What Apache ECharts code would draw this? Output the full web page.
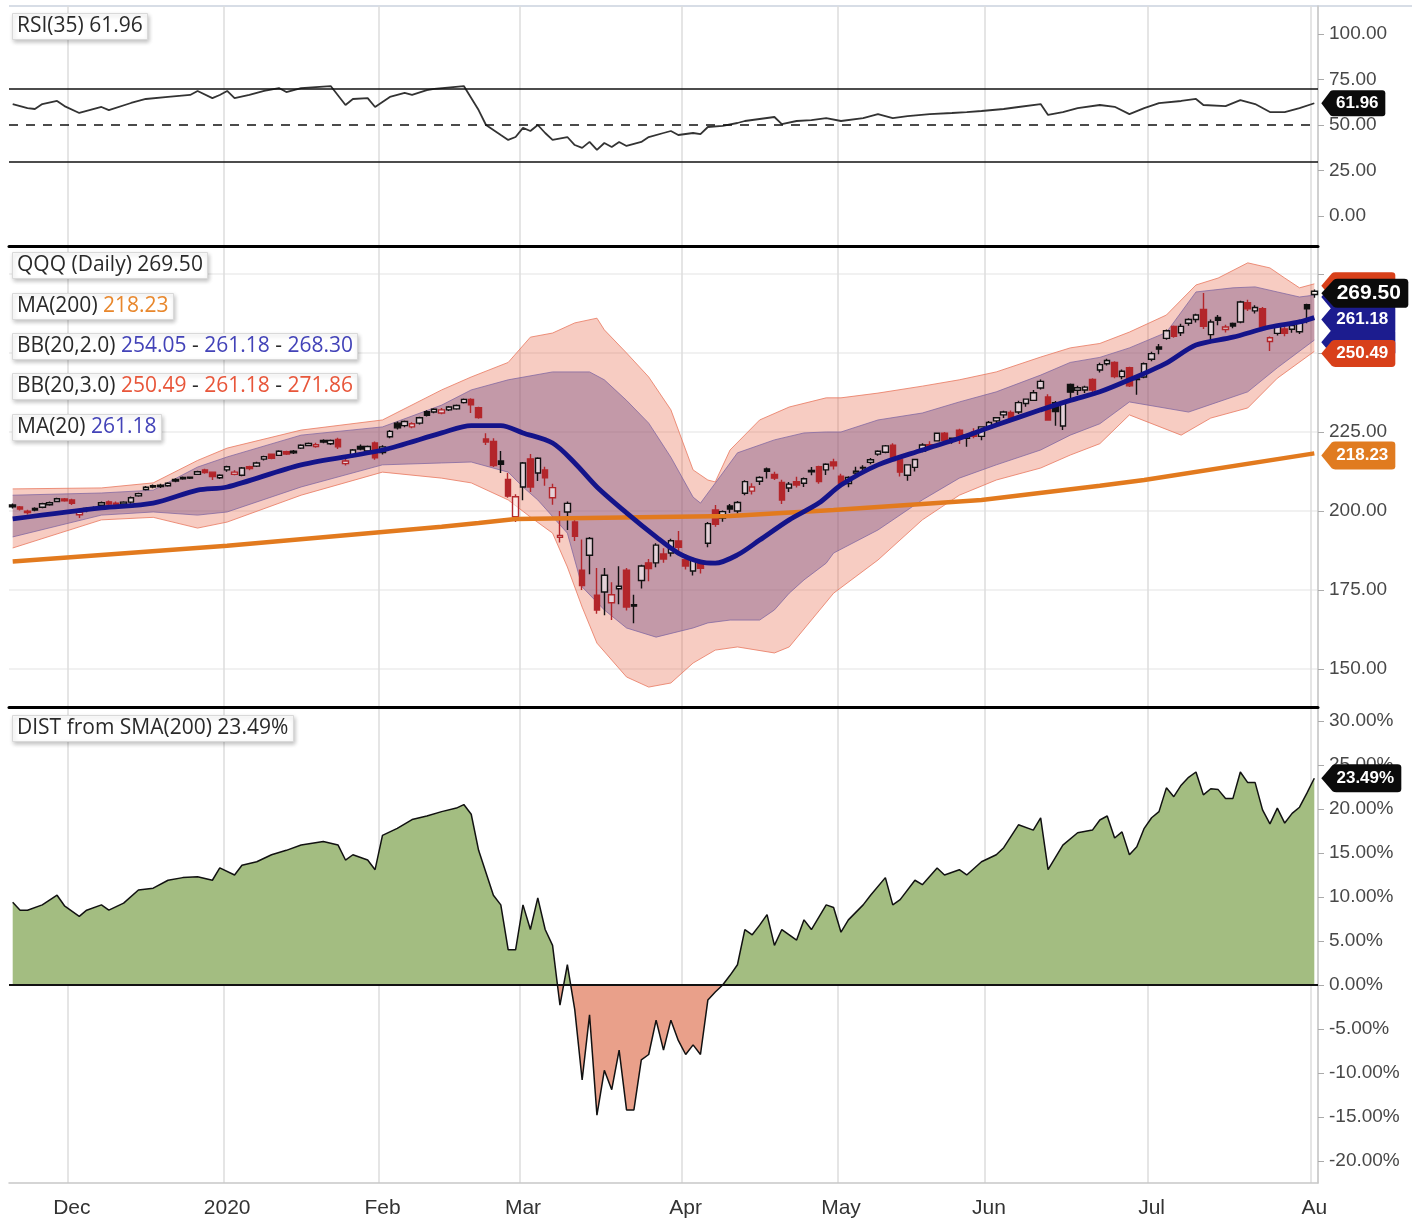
<!DOCTYPE html>
<html>
<head>
<meta charset="utf-8">
<script src="https://cdn.jsdelivr.net/npm/echarts@6/dist/echarts.min.js"></script>
<style>
  html, body { margin: 0; padding: 0; background: #fff; }
  #chart { width: 1412px; height: 1222px; }
</style>
</head>
<body>
<div id="chart"></div>
<script>
// trading days shown on the chart
var dates = [
  "2019-11-19","2019-11-20","2019-11-21","2019-11-22","2019-11-25","2019-11-26","2019-11-27","2019-11-29",
  "2019-12-02","2019-12-03","2019-12-04","2019-12-05","2019-12-06","2019-12-09","2019-12-10","2019-12-11","2019-12-12","2019-12-13","2019-12-16","2019-12-17","2019-12-18","2019-12-19","2019-12-20","2019-12-23","2019-12-24","2019-12-26","2019-12-27","2019-12-30","2019-12-31",
  "2020-01-02","2020-01-03","2020-01-06","2020-01-07","2020-01-08","2020-01-09","2020-01-10","2020-01-13","2020-01-14","2020-01-15","2020-01-16","2020-01-17","2020-01-21","2020-01-22","2020-01-23","2020-01-24","2020-01-27","2020-01-28","2020-01-29","2020-01-30","2020-01-31",
  "2020-02-03","2020-02-04","2020-02-05","2020-02-06","2020-02-07","2020-02-10","2020-02-11","2020-02-12","2020-02-13","2020-02-14","2020-02-18","2020-02-19","2020-02-20","2020-02-21","2020-02-24","2020-02-25","2020-02-26","2020-02-27","2020-02-28",
  "2020-03-02","2020-03-03","2020-03-04","2020-03-05","2020-03-06","2020-03-09","2020-03-10","2020-03-11","2020-03-12","2020-03-13","2020-03-16","2020-03-17","2020-03-18","2020-03-19","2020-03-20","2020-03-23","2020-03-24","2020-03-25","2020-03-26","2020-03-27","2020-03-30","2020-03-31",
  "2020-04-01","2020-04-02","2020-04-03","2020-04-06","2020-04-07","2020-04-08","2020-04-09","2020-04-13","2020-04-14","2020-04-15","2020-04-16","2020-04-17","2020-04-20","2020-04-21","2020-04-22","2020-04-23","2020-04-24","2020-04-27","2020-04-28","2020-04-29","2020-04-30",
  "2020-05-01","2020-05-04","2020-05-05","2020-05-06","2020-05-07","2020-05-08","2020-05-11","2020-05-12","2020-05-13","2020-05-14","2020-05-15","2020-05-18","2020-05-19","2020-05-20","2020-05-21","2020-05-22","2020-05-26","2020-05-27","2020-05-28","2020-05-29",
  "2020-06-01","2020-06-02","2020-06-03","2020-06-04","2020-06-05","2020-06-08","2020-06-09","2020-06-10","2020-06-11","2020-06-12","2020-06-15","2020-06-16","2020-06-17","2020-06-18","2020-06-19","2020-06-22","2020-06-23","2020-06-24","2020-06-25","2020-06-26","2020-06-29","2020-06-30",
  "2020-07-01","2020-07-02","2020-07-06","2020-07-07","2020-07-08","2020-07-09","2020-07-10","2020-07-13","2020-07-14","2020-07-15","2020-07-16","2020-07-17","2020-07-20","2020-07-21","2020-07-22","2020-07-23","2020-07-24","2020-07-27","2020-07-28","2020-07-29","2020-07-30","2020-07-31",
  "2020-08-03"
];

// month tick labels
var monthLabels = {
  "2019-12": "Dec", "2020-01": "2020", "2020-02": "Feb", "2020-03": "Mar", "2020-04": "Apr",
  "2020-05": "May", "2020-06": "Jun", "2020-07": "Jul", "2020-08": "Au"
};

var opens = [
  201.9,201.3,199.5,200.8,201.2,202.0,203.0,203.8,203.5,198.8,
  200.8,201.0,201.8,202.9,202.5,202.2,202.8,204.8,206.8,208.0,
  208.2,208.0,210.0,210.6,210.7,211.6,213.0,212.3,210.5,213.0,
  211.6,211.3,214.0,214.2,216.4,218.0,217.6,218.8,218.9,219.9,
  220.7,220.4,222.3,221.3,222.6,215.0,217.5,220.4,219.0,221.5,
  218.5,223.5,227.8,227.0,226.6,227.8,231.4,231.3,231.0,232.0,
  232.3,234.3,235.3,232.7,222.8,222.0,215.8,210.0,198.2,207.6,
  216.5,212.0,213.0,204.2,191.7,199.7,196.5,181.3,186.0,173.4,
  174.4,171.0,175.4,181.3,170.4,178.0,183.6,183.6,186.4,186.7,
  190.5,184.6,181.0,183.6,189.8,200.3,197.8,201.6,200.0,205.6,
  206.3,209.4,213.3,211.6,209.0,207.3,209.3,208.8,212.8,214.0,
  213.0,215.5,211.0,208.7,212.0,213.8,215.4,218.0,218.6,220.8,
  216.4,211.3,213.8,219.0,221.0,222.2,224.6,222.4,225.6,223.0,
  225.0,223.6,226.4,228.5,230.4,231.2,231.3,234.0,235.0,238.9,
  236.1,234.3,226.9,240.0,238.2,238.3,241.6,244.6,246.6,247.0,
  242.5,245.3,241.8,242.4,248.0,251.9,254.6,258.4,256.4,259.4,
  260.6,263.8,255.8,261.2,257.4,259.3,259.8,265.9,263.3,264.0,
  253.6,256.2,257.6,257.5,256.7,265.3,268.5
];
var closes = [
  201.3,200.6,199.9,200.3,202.3,202.6,203.9,203.2,202.4,199.6,
  200.2,200.6,202.6,202.2,202.0,202.8,204.2,205.5,207.5,207.6,
  207.7,208.8,209.5,210.2,210.4,212.4,212.2,210.9,211.3,214.0,
  212.3,213.6,213.4,215.2,217.2,216.7,218.9,218.0,218.4,220.8,
  221.4,221.0,221.8,222.3,220.3,215.8,219.3,219.6,220.4,216.8,
  220.3,225.2,226.3,228.3,227.6,229.5,230.3,232.2,232.0,232.9,
  233.4,235.3,233.6,229.6,221.8,214.4,214.8,204.7,204.5,215.2,
  207.6,216.7,210.5,207.4,192.3,202.4,192.0,176.4,191.3,168.7,
  179.7,173.5,176.2,169.6,169.9,182.6,181.8,189.2,184.8,190.6,
  188.5,182.6,184.4,181.9,196.0,195.8,199.8,200.6,202.7,209.3,
  207.6,210.6,212.6,210.4,203.5,208.5,208.2,210.2,212.4,209.3,
  214.8,214.3,208.5,210.6,212.6,213.6,216.2,218.9,220.6,216.0,
  212.3,214.6,216.3,220.9,220.3,224.6,222.3,223.0,222.9,224.0,
  223.6,226.6,228.0,229.5,231.3,229.3,234.3,235.4,237.4,241.0,
  228.8,231.5,234.0,237.6,239.0,239.2,238.3,246.3,247.6,242.5,
  244.2,239.6,241.6,246.6,249.8,251.2,257.0,255.3,258.4,260.6,
  262.0,258.4,259.8,260.3,258.2,258.5,266.1,264.0,264.4,258.2,
  254.8,258.4,256.2,258.7,259.9,264.0,269.5
];
var lows = [
  200.8,200.2,198.9,199.9,200.9,201.7,202.8,202.9,201.9,197.8,
  199.6,200.1,201.5,201.9,201.4,201.8,202.3,204.5,206.5,207.2,
  207.3,207.7,209.1,209.9,210.1,211.4,211.8,209.8,210.1,212.4,
  211.3,211.0,212.9,213.9,216.0,216.4,217.4,217.7,218.0,219.6,
  220.5,220.0,221.4,220.9,219.6,214.4,217.0,219.2,218.6,216.2,
  217.9,223.0,225.8,226.5,226.2,227.4,229.9,230.9,230.6,231.6,
  232.0,234.0,231.0,229.2,220.9,213.9,212.0,204.2,196.5,203.4,
  206.0,209.5,208.0,202.0,190.0,194.0,190.5,175.0,180.0,167.5,
  167.0,165.5,170.5,168.5,164.5,175.5,177.8,182.2,183.6,185.6,
  187.0,181.5,179.6,180.2,188.5,195.0,196.6,199.4,199.2,205.0,
  205.2,208.2,210.3,209.8,202.2,206.0,207.4,207.6,211.3,208.6,
  211.4,213.1,207.4,207.5,211.2,212.8,214.8,217.5,218.3,215.8,
  210.9,209.6,212.5,218.6,219.8,222.0,221.9,221.3,221.2,220.3,
  223.0,222.4,225.9,227.3,229.4,228.3,230.7,233.0,234.8,238.4,
  228.6,227.0,225.6,235.1,236.7,237.3,236.9,243.8,246.0,242.0,
  241.7,239.2,236.8,242.0,247.4,249.6,254.2,254.8,255.4,258.6,
  259.6,257.6,253.6,258.8,256.5,257.8,259.4,263.3,262.5,257.4,
  250.6,255.5,255.3,256.4,256.0,259.4,267.5
];
var highs = [
  202.4,201.6,200.4,201.2,202.6,203.0,204.2,204.1,203.9,200.0,
  201.2,201.4,203.0,203.3,203.0,203.1,204.6,205.8,207.9,208.4,
  208.6,209.1,210.4,210.9,210.9,212.7,213.4,212.5,211.6,214.3,
  212.9,213.9,214.3,215.6,217.5,218.2,219.2,219.1,219.3,221.1,
  221.7,221.6,222.7,222.6,223.2,216.6,219.6,221.0,220.7,222.0,
  220.8,225.6,228.3,228.6,228.1,229.8,231.9,232.5,232.6,233.2,
  233.7,235.6,235.7,233.0,224.6,223.0,219.0,212.0,205.3,215.5,
  218.0,217.0,214.0,208.6,200.0,203.0,198.2,191.0,191.8,182.0,
  182.0,177.5,182.5,182.0,173.5,183.0,184.8,189.8,188.2,191.2,
  193.7,186.4,185.3,184.4,196.5,201.9,200.2,202.2,203.2,209.7,
  208.8,211.0,213.8,212.4,209.9,209.2,210.8,210.6,213.9,214.3,
  215.1,216.5,211.8,211.0,214.0,214.5,216.8,219.2,220.9,221.4,
  217.0,214.8,216.5,221.4,222.1,224.8,225.0,223.2,226.0,224.2,
  226.2,226.8,228.5,229.6,231.7,231.8,234.9,235.6,238.3,241.6,
  236.9,234.8,234.7,240.3,239.6,239.6,242.0,246.9,248.2,247.4,
  244.8,245.6,242.0,247.0,250.4,252.8,257.4,258.7,259.2,261.0,
  262.4,269.0,260.6,262.0,258.9,259.6,266.5,266.8,265.1,264.5,
  255.2,258.9,258.3,259.4,260.5,265.6,270.1
];

// overlays, read as [day index, value]
var ma200 = [[0,184.0],[29,189.0],[58,195.0],[63,196.2],[68,197.5],[97,198.4],[111,200.3],[131,203.5],[147,208.0],[153,209.8],[176,218.23]];
var ma20 = [[0,197.5],[12,201.0],[19,202.5],[25,206.6],[29,207.6],[39,214.6],[50,219.3],[58,224.7],[62,227.0],[66,227.0],[69,224.7],[73,221.5],[76,215.2],[79,207.6],[83,199.4],[87,191.8],[90,186.7],[93,183.9],[95,183.5],[98,186.1],[101,190.8],[105,197.2],[109,202.5],[112,208.2],[117,214.6],[123,219.3],[128,223.0],[133,227.2],[139,232.0],[143,235.0],[147,237.7],[151,241.5],[156,246.8],[160,252.5],[165,255.0],[170,258.2],[174,259.8],[176,261.18]];
var bb2Upper = [[0,205.0],[12,205.7],[19,206.6],[25,213.9],[29,217.1],[39,224.0],[50,226.6],[58,233.5],[62,238.3],[67,241.5],[73,244.0],[78,244.0],[80,241.5],[83,235.0],[86,227.8],[89,217.0],[92,204.4],[93,202.5],[96,212.0],[98,218.4],[103,222.5],[107,224.7],[110,225.0],[112,225.0],[117,228.8],[123,231.0],[128,234.5],[133,237.7],[139,243.0],[143,247.0],[147,248.6],[151,251.6],[156,256.5],[160,269.3],[165,270.6],[168,270.9],[171,269.3],[174,267.7],[176,268.30]];
var bb2Lower = [[0,191.8],[12,198.7],[19,199.7],[25,198.7],[29,199.7],[39,207.6],[50,214.6],[58,215.2],[62,215.5],[67,212.3],[69,207.6],[71,203.5],[75,193.0],[77,176.0],[80,168.7],[83,163.0],[87,160.1],[92,163.0],[94,164.6],[97,165.5],[101,165.5],[103,168.7],[105,174.0],[107,178.2],[110,183.5],[111,186.7],[117,194.0],[123,203.5],[128,210.4],[133,214.6],[139,219.3],[143,224.0],[147,227.6],[151,234.5],[159,231.3],[163,234.5],[167,237.7],[171,245.3],[176,254.05]];
var bb3Upper = [[0,207.0],[12,207.3],[19,208.9],[25,216.0],[29,219.9],[39,225.6],[50,228.8],[58,238.3],[62,242.4],[67,247.0],[70,255.0],[73,256.3],[76,259.5],[79,261.0],[80,257.3],[83,250.0],[86,242.4],[89,232.0],[92,213.0],[94,209.8],[95,209.2],[97,219.3],[101,228.8],[105,232.9],[110,235.8],[112,235.8],[117,237.3],[123,239.5],[128,241.5],[133,244.0],[139,248.7],[143,251.6],[147,253.0],[151,256.6],[156,262.0],[160,271.5],[163,273.7],[167,278.5],[170,276.9],[172,273.7],[174,270.6],[176,271.86]];
var bb3Lower = [[0,188.3],[12,197.2],[19,198.0],[25,194.6],[29,196.5],[39,205.0],[50,212.3],[58,210.4],[62,208.9],[67,203.5],[70,198.1],[73,193.0],[75,182.3],[77,169.6],[79,158.2],[83,147.5],[86,144.3],[89,145.6],[92,151.9],[95,156.0],[98,157.0],[103,155.1],[105,157.0],[108,165.5],[111,174.0],[117,184.5],[123,197.2],[128,205.0],[133,209.8],[139,213.6],[143,217.7],[147,221.3],[151,230.4],[158,224.0],[162,229.4],[167,232.6],[171,242.0],[176,250.49]];

// RSI(35)
var rsi = [[0,61.5],[2,59.3],[3,58.8],[4,61.5],[6,63.2],[7,60.4],[9,56.6],[12,59.9],[13,58.2],[16,62.1],[18,64.3],[21,65.4],[24,66.5],[25,68.7],[27,64.8],[28,66.5],[29,68.7],[30,64.8],[32,66.5],[34,68.7],[36,70.3],[37,68.1],[39,70.3],[43,71.4],[45,61.0],[46,64.3],[48,64.8],[49,59.9],[51,65.4],[53,67.6],[54,66.5],[56,69.2],[57,69.8],[61,71.4],[63,58.2],[64,50.0],[66,44.5],[67,41.8],[68,43.4],[69,48.4],[70,46.7],[71,50.0],[72,45.6],[73,41.8],[75,43.4],[76,39.0],[77,37.4],[78,40.7],[79,36.3],[80,40.1],[81,37.9],[82,40.7],[83,38.5],[85,40.7],[86,43.4],[88,45.6],[89,46.7],[90,44.5],[92,45.6],[93,45.0],[94,48.9],[96,49.5],[98,51.1],[99,52.2],[101,53.3],[103,54.4],[104,50.5],[106,52.2],[108,52.7],[110,53.8],[112,52.2],[115,53.8],[117,56.0],[119,53.8],[121,54.9],[124,56.0],[127,56.6],[129,57.1],[131,57.7],[134,58.8],[136,59.9],[139,61.5],[140,55.5],[142,57.1],[144,59.3],[147,61.0],[149,60.0],[151,56.0],[153,59.3],[155,62.0],[158,63.2],[160,64.3],[161,61.0],[164,60.4],[166,63.7],[168,61.5],[170,57.1],[172,57.1],[174,59.3],[176,61.96]];

// distance from SMA(200), percent
var dist = [[0,9.4],[1,8.5],[2,8.5],[4,9.1],[6,10.2],[7,9.0],[9,7.8],[10,8.5],[12,9.1],[13,8.5],[15,9.3],[17,10.8],[19,11.0],[21,11.9],[23,12.2],[25,12.3],[27,11.9],[28,13.3],[30,12.5],[31,13.6],[33,14.0],[35,14.8],[37,15.3],[39,15.9],[42,16.3],[44,15.9],[45,14.2],[46,14.8],[48,14.2],[49,13.1],[50,17.0],[52,17.8],[54,18.8],[56,19.2],[58,19.7],[60,20.1],[61,20.5],[62,19.4],[63,15.3],[65,10.2],[66,9.1],[67,4.0],[68,4.0],[69,9.1],[70,6.3],[71,9.9],[72,6.3],[73,4.5],[74,-2.3],[75,2.3],[76,-2.8],[77,-10.8],[78,-3.4],[79,-14.8],[80,-9.7],[81,-11.9],[82,-7.4],[83,-14.2],[84,-14.2],[85,-8.5],[86,-7.9],[87,-4.0],[88,-7.4],[89,-4.0],[90,-6.3],[91,-7.9],[92,-6.8],[93,-7.9],[94,-1.7],[95,-0.8],[96,0.0],[97,1.1],[98,2.3],[99,6.3],[100,5.7],[101,6.8],[102,8.0],[103,4.5],[104,6.3],[106,5.1],[107,7.4],[108,6.3],[110,9.1],[111,8.8],[112,6.0],[113,7.4],[115,9.1],[116,10.2],[118,12.2],[119,9.1],[120,9.7],[122,11.9],[123,11.4],[125,13.3],[126,12.5],[128,13.1],[129,12.5],[131,14.0],[133,14.8],[134,15.6],[136,18.2],[138,17.6],[139,19.0],[140,13.1],[141,14.5],[142,15.9],[144,17.3],[146,17.6],[147,18.75],[148,19.2],[149,16.7],[150,17.4],[151,14.8],[152,15.7],[153,17.8],[154,19.0],[155,19.7],[156,22.4],[157,21.4],[158,22.7],[159,23.6],[160,24.2],[161,21.6],[162,22.3],[163,22.2],[164,21.2],[165,21.2],[166,24.2],[167,23.0],[168,23.0],[169,19.9],[170,18.3],[171,20.1],[172,18.4],[173,19.5],[174,20.2],[175,21.8],[176,23.49]];

var rsiTicks = [0, 25, 50, 75, 100];
var priceTicks = [150, 175, 200, 225, 250, 275];
var priceLabels = [150, 175, 200, 225, 250];
var distTicks = [-20, -15, -10, -5, 0, 5, 10, 15, 20, 25, 30];

var last = dates.length - 1;
var AXIS_FONT = "'Liberation Sans', Arial, sans-serif";
var BOX_FONT = "'Open Sans', 'Noto Sans', sans-serif";

function isMonthStart(i) {
  return i > 0 && dates[i].slice(0, 7) !== dates[i - 1].slice(0, 7);
}

// hollow when close > open, red when close < previous close
var candles = closes.map(function (c, i) {
  var o = opens[i];
  var rising = i === 0 || c >= closes[i - 1];
  var edge = rising ? "#111111" : "#b3262b";
  var fill = c >= o ? "rgba(255,255,255,0.55)" : edge;
  return {
    value: [o, c, lows[i], highs[i]],
    itemStyle: { color: fill, color0: fill, borderColor: edge, borderColor0: edge }
  };
});

// value tag on the right axis
function tag(value, text, bg, w, h, z, opts) {
  opts = opts || {};
  return {
    silent: true,
    z: z,
    symbol: "path://M0,13 L9,1 Q10,0 12,0 L61,0 Q64,0 64,3 L64,23 Q64,26 61,26 L12,26 Q10,26 9,25 Z",
    symbolKeepAspect: false,
    symbolSize: [w, h],
    symbolOffset: [w / 2 + 7, opts.dy || 0],
    itemStyle: { color: bg },
    label: {
      show: !opts.hidden, position: "inside", offset: [4, 0], formatter: text,
      color: "#fff", fontFamily: AXIS_FONT, fontSize: opts.bold ? 21 : 17, fontWeight: "bold"
    },
    data: [{ coord: [dates[last], value] }]
  };
}

function band(upper, lower, fill) {
  return {
    type: "custom", xAxisIndex: 1, yAxisIndex: 1, silent: true, z: 1,
    data: [0],
    renderItem: function (params, api) {
      var pts = upper.map(function (p) { return api.coord(p); });
      lower.slice().reverse().forEach(function (p) { pts.push(api.coord(p)); });
      return { type: "polygon", shape: { points: pts }, style: { fill: fill } };
    }
  };
}

function edge(data, color, mark) {
  var s = {
    type: "line", xAxisIndex: 1, yAxisIndex: 1, data: data, symbol: "none", silent: true, z: 2,
    clip: false, lineStyle: { color: color, width: 1 }
  };
  if (mark) s.markPoint = mark;
  return s;
}

function xAxisFor(gi, bottom) {
  return {
    type: "category", gridIndex: gi, data: dates, boundaryGap: true,
    axisLine: bottom ? { onZero: false, lineStyle: { color: "#c8c8c8", width: 1.5 } }
                     : { onZero: false, lineStyle: { color: "#000", width: 3 } },
    axisTick: bottom ? { interval: isMonthStart, length: 12, lineStyle: { color: "#c8c8c8", width: 1.5 } } : { show: false },
    axisLabel: bottom ? {
      interval: isMonthStart, margin: 15, color: "#333", fontFamily: AXIS_FONT, fontSize: 21,
      formatter: function (v) { return monthLabels[v.slice(0, 7)] || ""; }
    } : { show: false },
    splitLine: { show: true, interval: isMonthStart, lineStyle: { color: "#dcdcdc", width: 1.5 } }
  };
}

function yAxisFor(gi, min, max, ticks, labels, fmt, split) {
  return {
    type: "value", gridIndex: gi, position: "right", min: min, max: max, scale: true,
    axisLine: { show: true, lineStyle: { color: "#c8c8c8", width: 1.5 } },
    axisTick: { show: true, customValues: ticks, length: 6, lineStyle: { color: "#aaa" } },
    axisLabel: { customValues: labels, margin: 11, color: "#484848", fontFamily: AXIS_FONT, fontSize: 19, formatter: fmt },
    splitLine: { show: split, lineStyle: { color: "#ececec", width: 1.5 } }
  };
}

function box(left, top, parts) {
  return {
    left: left, top: top, text: parts,
    backgroundColor: "#fff", borderColor: "#d9d9d9", borderWidth: 1,
    padding: [3, 5, 3, 5],
    shadowBlur: 4, shadowOffsetX: 1, shadowOffsetY: 2, shadowColor: "rgba(0,0,0,0.22)",
    textStyle: {
      fontFamily: BOX_FONT, fontSize: 21, fontWeight: "normal", color: "#333",
      rich: {
        k: { fontFamily: BOX_FONT, fontSize: 21, color: "#2a2a2a" },
        o: { fontFamily: BOX_FONT, fontSize: 21, color: "#e8872c" },
        b: { fontFamily: BOX_FONT, fontSize: 21, color: "#4343b8" },
        r: { fontFamily: BOX_FONT, fontSize: 21, color: "#e8563a" }
      }
    }
  };
}

var chart = echarts.init(document.getElementById("chart"));

var option = {
  animation: false,
  backgroundColor: "#fff",
  title: [
    box(12, 13, "{k|RSI(35) 61.96}"),
    box(12, 252, "{k|QQQ (Daily) 269.50}"),
    box(12, 293, "{k|MA(200)} {o|218.23}"),
    box(12, 333, "{k|BB(20,2.0)} {b|254.05} {k|-} {b|261.18} {k|-} {b|268.30}"),
    box(12, 373, "{k|BB(20,3.0)} {r|250.49} {k|-} {r|261.18} {k|-} {r|271.86}"),
    box(12, 414, "{k|MA(20)} {b|261.18}"),
    box(12, 715, "{k|DIST from SMA(200) 23.49%}")
  ],
  graphic: [
    { type: "line", shape: { x1: 9, y1: 6, x2: 1412, y2: 6 }, style: { stroke: "#d7dde6", lineWidth: 2 }, silent: true }
  ],
  grid: [
    { left: 9, top: 6, width: 1309, height: 240, outerBoundsMode: "none" },
    { left: 9, top: 248, width: 1309, height: 459, outerBoundsMode: "none" },
    { left: 9, top: 709, width: 1309, height: 474, outerBoundsMode: "none" }
  ],
  xAxis: [xAxisFor(0, false), xAxisFor(1, false), xAxisFor(2, true)],
  yAxis: [
    yAxisFor(0, -16.5, 115.4, rsiTicks, rsiTicks, function (v) { return v.toFixed(2); }, false),
    yAxisFor(1, 138, 283.2, priceTicks, priceLabels, function (v) { return v.toFixed(2); }, true),
    yAxisFor(2, -22.5, 31.36, distTicks, distTicks, function (v) { return v.toFixed(2) + "%"; }, false)
  ],
  visualMap: {
    show: false, type: "piecewise", seriesIndex: 10, dimension: 1,
    pieces: [{ min: -60, max: 0, color: "#e9a08a" }, { min: 0, max: 60, color: "#a3bd81" }]
  },
  series: [
    // 0 RSI
    {
      type: "line", xAxisIndex: 0, yAxisIndex: 0, data: rsi, symbol: "none", clip: false, z: 3,
      lineStyle: { color: "#333", width: 1.8 },
      markLine: {
        silent: true, symbol: "none", label: { show: false },
        lineStyle: { color: "#111", width: 1.6, type: "solid" },
        data: [{ yAxis: 70 }, { yAxis: 50, lineStyle: { type: [9, 8] } }, { yAxis: 30 }]
      },
      markPoint: tag(61.96, "61.96", "#0b0b0b", 64, 26, 6)
    },
    // 1-2 Bollinger fills
    band(bb3Upper, bb3Lower, "rgba(232,100,70,0.33)"),
    band(bb2Upper, bb2Lower, "rgba(110,70,125,0.38)"),
    // 3-6 band edges
    edge(bb3Upper, "rgba(232,120,95,0.8)", tag(271.86, "271.86", "#d8401a", 74, 27, 5, { dy: 2, hidden: true })),
    edge(bb2Upper, "rgba(120,95,160,0.7)", tag(268.30, "268.30", "#1c1c8f", 74, 27, 6, { dy: 2, hidden: true })),
    edge(bb2Lower, "rgba(120,95,160,0.7)", tag(254.05, "254.05", "#1c1c8f", 74, 27, 6, { dy: 2, hidden: true })),
    edge(bb3Lower, "rgba(232,120,95,0.8)", tag(250.49, "250.49", "#d8401a", 74, 27, 7, { dy: 2 })),
    // 7 candles
    {
      type: "candlestick", xAxisIndex: 1, yAxisIndex: 1, data: candles, barWidth: 6, z: 3, clip: false,
      itemStyle: { borderWidth: 1.4 },
      markPoint: tag(269.50, "269.50", "#0b0b0b", 87, 29, 9, { dy: 2, bold: true })
    },
    // 8 MA200
    {
      type: "line", xAxisIndex: 1, yAxisIndex: 1, data: ma200, symbol: "none", z: 4, clip: false,
      lineStyle: { color: "#e27a1e", width: 4.5 },
      markPoint: tag(218.23, "218.23", "#e07b20", 74, 28, 6, { dy: 2 })
    },
    // 9 MA20
    {
      type: "line", xAxisIndex: 1, yAxisIndex: 1, data: ma20, symbol: "none", z: 4, clip: false, smooth: 0.3,
      lineStyle: { color: "#14148a", width: 4.8 },
      markPoint: tag(261.18, "261.18", "#1c1c8f", 74, 27, 8, { dy: 2 })
    },
    // 10 DIST
    {
      type: "line", xAxisIndex: 2, yAxisIndex: 2, data: dist, symbol: "none", z: 3, clip: false,
      lineStyle: { color: "#111", width: 1.5 },
      areaStyle: { origin: 0, opacity: 1 },
      markLine: {
        silent: true, symbol: "none", label: { show: false },
        lineStyle: { color: "#111", width: 2, type: "solid" },
        data: [{ yAxis: 0 }]
      },
      markPoint: tag(23.49, "23.49%", "#0b0b0b", 80, 28, 6)
    }
  ]
};

chart.setOption(option);
</script>
</body>
</html>
